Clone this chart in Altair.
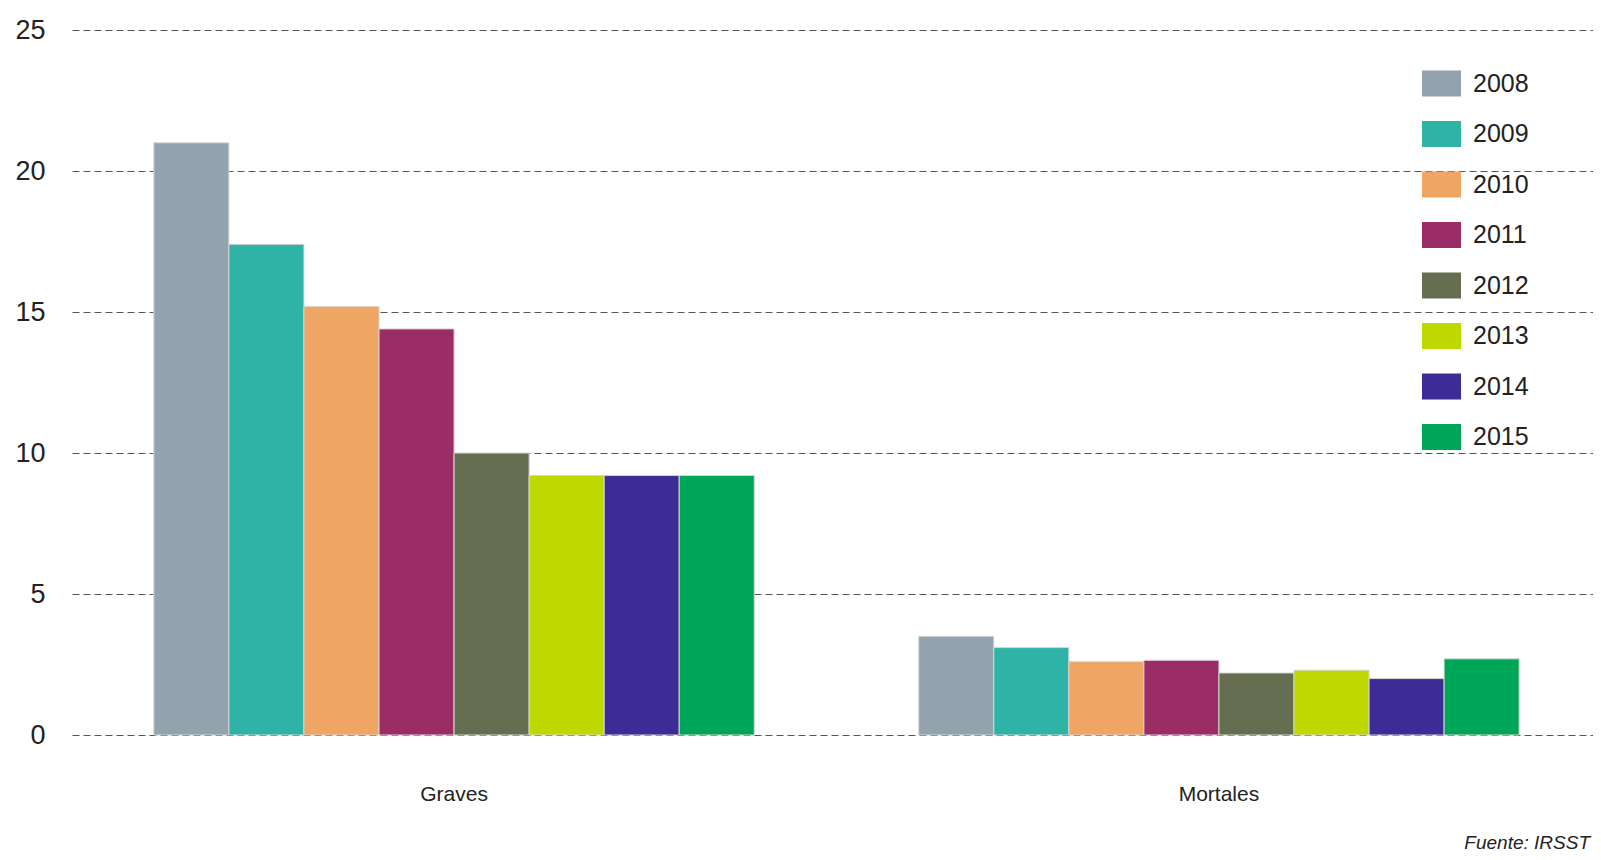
import altair as alt
import pandas as pd

categories = ["Graves", "Mortales"]
years = ["2008", "2009", "2010", "2011", "2012", "2013", "2014", "2015"]
graves = [21.0, 17.4, 15.2, 14.4, 10.0, 9.2, 9.2, 9.2]
mortales = [3.5, 3.1, 2.6, 2.65, 2.2, 2.3, 2.0, 2.7]
colors = ["#93a3ad", "#2fb3a6", "#efa563", "#9a2c66", "#656e50", "#bfd900", "#3d2b96", "#00a657"]
y_ticks = [0, 5, 10, 15, 20, 25]
source_note = "Fuente: IRSST"

rows = []
for cat, vals in zip(categories, [graves, mortales]):
    for yr, v in zip(years, vals):
        rows.append({"tipo": cat, "year": yr, "valor": v})
df = pd.DataFrame(rows)

FONT = "Liberation Sans"
W, H = 1521, 705

bars = alt.Chart(df).mark_bar(stroke="#d6d6d6", strokeWidth=1).encode(
    x=alt.X("tipo:N", sort=categories, title=None,
            scale=alt.Scale(paddingInner=0.215, paddingOuter=0.107, range=[0, 1529]),
            axis=alt.Axis(labelAngle=0, domain=False, ticks=False, grid=False,
                          labelFontSize=21, labelPadding=48, labelColor="#222",
                          labelFont=FONT)),
    xOffset=alt.XOffset("year:N", sort=years, scale=alt.Scale(paddingInner=0, paddingOuter=0)),
    y=alt.Y("valor:Q", title=None,
            scale=alt.Scale(domain=[0, 25], nice=False),
            axis=alt.Axis(values=y_ticks, domain=False, ticks=False, grid=True,
                          gridDash=[7, 4], gridColor="#555555", gridWidth=1,
                          labelFontSize=27, labelPadding=27, labelColor="#222",
                          labelFont=FONT)),
    color=alt.Color("year:N", sort=years,
                    scale=alt.Scale(domain=years, range=colors),
                    legend=alt.Legend(title=None, orient="none", legendX=1350, legendY=34,
                                      symbolType="M-1,-0.667H1V0.667H-1Z",
                                      symbolSize=1521, symbolStrokeWidth=0,
                                      labelFontSize=25, labelColor="#222", labelFont=FONT,
                                      labelOffset=12, rowPadding=17.5, padding=0)),
)

note = alt.Chart(pd.DataFrame({"t": [source_note]})).mark_text(
    align="right", baseline="middle", fontStyle="italic", fontSize=19,
    font=FONT, color="#222"
).encode(text="t:N", x=alt.value(W - 3), y=alt.value(813))

chart = alt.layer(bars, note).properties(
    width=W, height=H,
    autosize=alt.AutoSizeParams(type="none"),
    padding={"left": 64, "top": 22, "right": 0, "bottom": 123},
).configure(background="white").configure_view(stroke=None)

chart.save("out.html", embed_options={"renderer": "svg", "actions": False})
